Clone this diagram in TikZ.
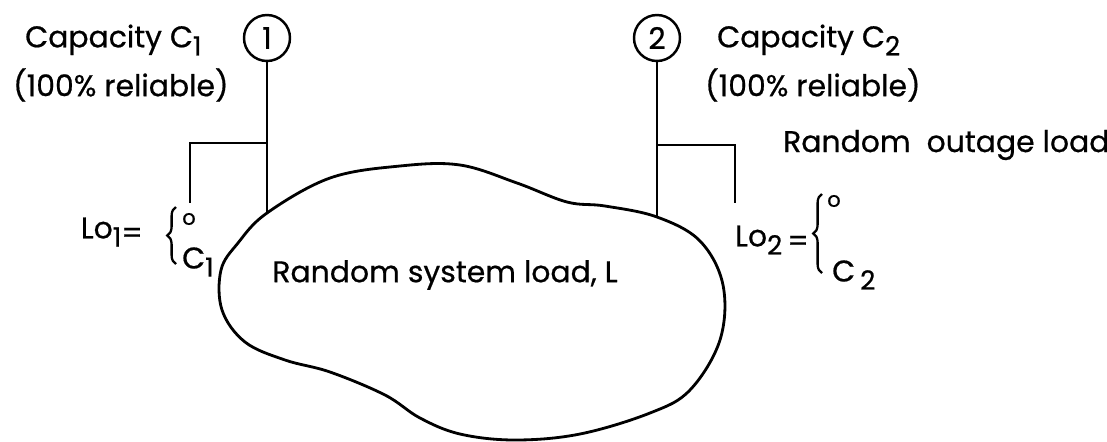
\documentclass[tikz,border=0pt]{standalone}
\usepackage{fontspec}
\setmainfont{Poppins}[FakeBold=0.6]
\usetikzlibrary{decorations.pathreplacing}
\newcommand{\lowsub}[1]{\raisebox{-0.5ex}{\fontsize{15}{17}\selectfont #1}}
\begin{document}
\begin{tikzpicture}[x=0.02cm,y=-0.02cm,line width=1.6pt,
  every node/.style={font=\fontsize{17}{20}\selectfont,inner sep=1pt},
  gen/.style={draw,circle,minimum size=0.92cm,inner sep=0pt,line width=1.4pt},
  curly/.style={decorate,decoration={brace,amplitude=5pt},line width=1.3pt}]
  \useasboundingbox (0,0) rectangle (1107,441);
  % random system load
  \coordinate (J1) at (267,213);
  \coordinate (J2) at (657,217);
  \draw plot[smooth cycle,tension=0.6] coordinates {(267,213) (330,178) (400,166)
    (460,165) (517,183) (567,202) (605,206) (657,217) (700,241) (723,285)
    (720,340) (690,390) (650,413) (580,434) (515,440) (460,434) (420,418)
    (385,395) (330,372) (285,360) (245,342) (222,310) (221,270) (238,243)};
  \node (Sys) at (445,275) {Random system load, L};
  % unit 1
  \node[gen] (G1) at (267,38) {1};
  \coordinate (T1) at (267,143);
  \coordinate (E1) at (190,143);
  \coordinate (F1) at (190,203);
  \draw (G1) -- (J1);
  \draw (T1) -- (E1) -- (F1);
  \node[anchor=west] (Cap1) at (22,40) {Capacity C\lowsub{1}};
  \node[anchor=west] (Rel1) at (10,85) {(100\% reliable)};
  \node[anchor=east] (Lo1) at (146,232) {Lo\lowsub{1}\raisebox{-0.3ex}{=}};
  \coordinate (B1b) at (176,264);
  \coordinate (B1t) at (176,207);
  \draw[curly] (B1b) -- (B1t);
  \node (Z1) at (189,219) {\fontsize{12}{14}\selectfont o};
  \node[anchor=west] (C1) at (179,262) {C\lowsub{1}};
  % unit 2
  \node[gen] (G2) at (657,38) {2};
  \coordinate (T2) at (657,145);
  \coordinate (E2) at (735,145);
  \coordinate (F2) at (735,203);
  \draw (G2) -- (J2);
  \draw (T2) -- (E2) -- (F2);
  \node[anchor=west] (Cap2) at (714,40) {Capacity C\lowsub{2}};
  \node[anchor=west] (Rel2) at (702,85) {(100\% reliable)};
  \node[anchor=west] (Out) at (780,145) {Random\ \ outage load};
  \node[anchor=east] (Lo2) at (812,240) {Lo\lowsub{2}\,\raisebox{-0.3ex}{=}};
  \coordinate (B2b) at (822,273);
  \coordinate (B2t) at (822,194);
  \draw[curly] (B2b) -- (B2t);
  \node (Z2) at (834,201) {\fontsize{12}{14}\selectfont o};
  \node[anchor=west] (C2) at (829,275) {C\,\lowsub{2}};
\end{tikzpicture}
\end{document}
